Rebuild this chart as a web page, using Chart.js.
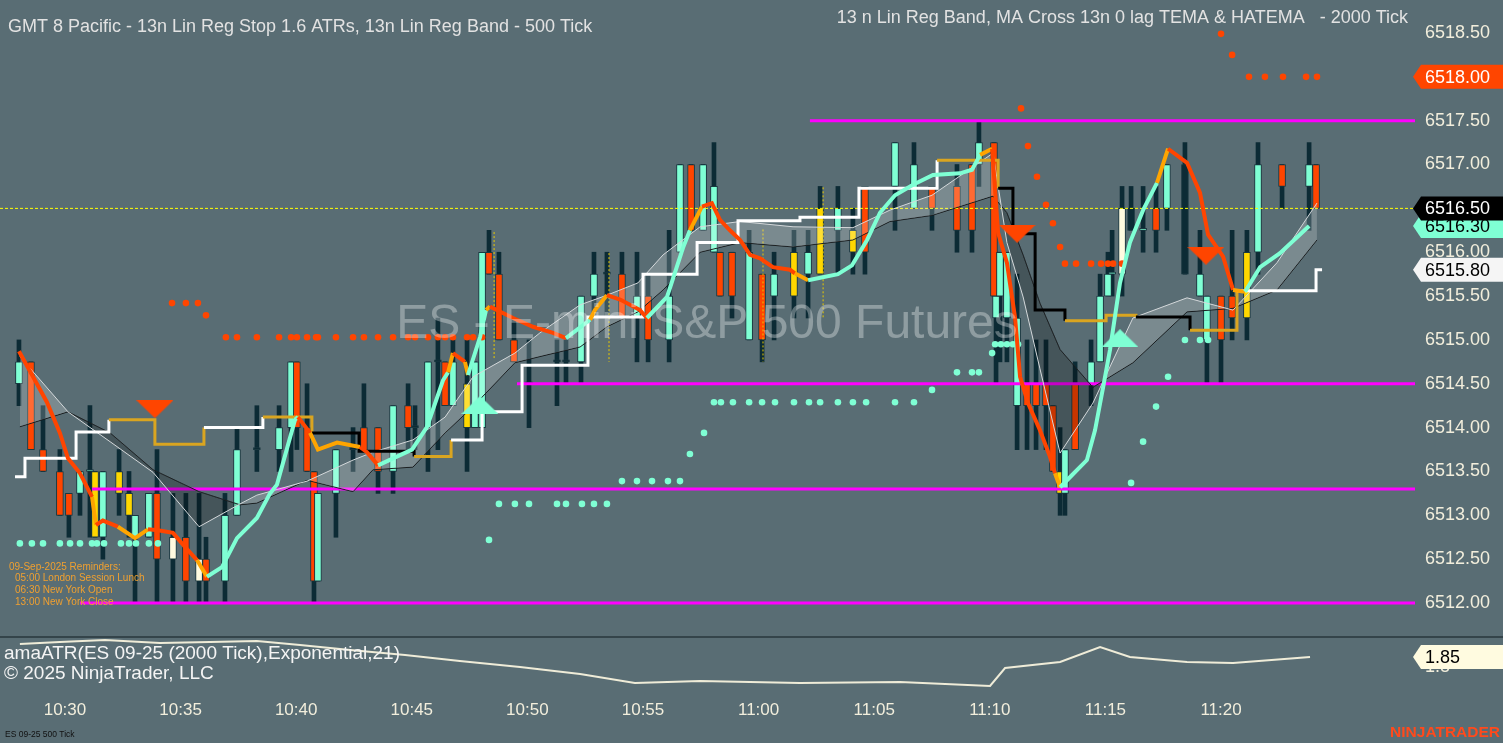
<!DOCTYPE html>
<html>
<head>
<meta charset="utf-8">
<script src="https://cdn.jsdelivr.net/npm/chart.js@4.4.0/dist/chart.umd.min.js"></script>
<style>
  html, body { margin: 0; padding: 0; background: #596d74; overflow: hidden; }
  #wrap { position: relative; width: 1503px; height: 743px; }
  #main { position: absolute; left: 0; top: 0; }
  #sep { position: absolute; left: 0; top: 636px; width: 1503px; height: 2px; background: #34444a; }
  #atr { position: absolute; left: 0; top: 638px; }
</style>
</head>
<body>
<div id="wrap">
  <canvas id="main" width="1503" height="636"></canvas>
  <div id="sep"></div>
  <canvas id="atr" width="1503" height="105"></canvas>
</div>
<script>
// time is in minutes after 10:00
const priceTicks = [6512.0, 6512.5, 6513.0, 6513.5, 6514.0, 6514.5, 6515.0, 6515.5, 6516.0, 6516.5, 6517.0, 6517.5, 6518.0, 6518.5];
const timeTicks = [30, 35, 40, 45, 50, 55, 60, 65, 70, 75, 80];
const atrTicks = [1.8];

// 500 tick bars
const barTime = [28.01, 28.53, 29.05, 29.78, 30.17, 30.65, 31.08, 31.30, 31.64, 32.34,
  32.77, 33.03, 33.63, 33.98, 34.67, 35.23, 35.80, 36.10, 36.92, 37.44,
  38.30, 39.26, 39.78, 40.03, 40.47, 40.77, 40.94, 41.72, 42.46, 42.93,
  43.54, 44.19, 44.84, 45.14, 45.70, 46.13, 46.44, 46.78, 47.39, 47.73,
  48.04, 48.34, 48.77, 49.42, 50.07, 51.28, 51.67, 52.32, 52.88, 53.44,
  54.09, 54.74, 55.22, 56.13, 56.60, 57.08, 57.60, 58.07, 58.33, 58.85,
  59.59, 60.15, 60.67, 61.53, 62.14, 62.66, 63.43, 64.08, 64.60, 65.90,
  66.72, 67.50, 68.58, 69.23, 69.53, 70.18, 70.27, 70.44, 70.74, 71.18,
  71.61, 72.00, 72.43, 72.73, 73.04, 73.25, 73.69, 74.38, 74.77, 75.11,
  75.29, 75.72, 76.11, 76.63, 77.19, 77.66, 78.44, 79.09, 79.39, 80.00,
  80.48, 81.12, 81.60, 82.64, 83.81, 84.11];
const barOpen = [6514.5, 6514.75, 6513.75, 6513.5, 6513.0, 6513.25, 6513.5, 6513.5, 6512.75, 6513.5,
  6513.25, 6512.75, 6512.75, 6513.25, 6512.75, 6512.75, 6512.5, 6512.5, 6512.25, 6513.0,
  6513.75, 6513.75, 6514.0, 6514.75, 6514.0, 6513.5, 6512.25, 6513.25, 6513.75, 6514.0,
  6514.0, 6513.5, 6514.25, 6514.0, 6514.0, 6514.75, 6514.75, 6514.25, 6514.5, 6514.0,
  6514.0, 6516.0, 6515.75, 6515.0, 6514.5, 6514.75, 6514.75, 6514.75, 6515.5, 6515.75,
  6515.75, 6515.25, 6515.5, 6515.0, 6516.0, 6517.0, 6516.25, 6516.75, 6516.0, 6515.5,
  6516.0, 6515.0, 6515.75, 6515.5, 6516.0, 6515.75, 6516.5, 6516.25, 6516.0, 6516.75,
  6517.0, 6516.5, 6516.75, 6516.25, 6517.0, 6517.25, 6515.25, 6516.0, 6516.0, 6515.25,
  6514.25, 6514.5, 6514.5, 6514.25, 6513.5, 6513.25, 6513.75, 6514.5, 6514.75, 6515.5,
  6515.75, 6515.75, 6516.5, 6516.25, 6516.25, 6516.5, 6517.0, 6515.75, 6515.5, 6515.0,
  6515.5, 6515.25, 6516.0, 6517.0, 6516.75, 6517.0];
const barHigh = [6515.0, 6514.75, 6514.25, 6513.75, 6513.25, 6513.5, 6514.25, 6513.5, 6513.5, 6513.75,
  6513.5, 6513.0, 6513.25, 6513.75, 6513.25, 6513.25, 6513.25, 6512.75, 6513.25, 6514.0,
  6514.25, 6514.25, 6514.75, 6514.75, 6514.5, 6513.5, 6513.25, 6513.75, 6514.0, 6514.5,
  6514.0, 6514.25, 6514.5, 6514.25, 6514.75, 6515.25, 6514.75, 6515.0, 6515.0, 6514.75,
  6516.0, 6516.25, 6516.0, 6515.25, 6515.0, 6515.0, 6515.0, 6515.5, 6516.0, 6516.0,
  6516.0, 6516.0, 6515.75, 6516.25, 6517.0, 6517.0, 6517.0, 6517.25, 6516.0, 6516.0,
  6516.25, 6515.75, 6516.0, 6516.25, 6516.25, 6516.75, 6516.75, 6516.5, 6516.75, 6517.25,
  6517.25, 6516.75, 6517.0, 6517.0, 6517.5, 6517.25, 6515.5, 6516.0, 6516.0, 6515.75,
  6515.0, 6515.0, 6515.0, 6514.25, 6514.0, 6513.75, 6514.75, 6515.0, 6515.75, 6516.0,
  6516.25, 6516.75, 6516.75, 6516.75, 6516.75, 6517.0, 6517.25, 6516.25, 6515.5, 6515.5,
  6516.25, 6516.25, 6517.25, 6517.0, 6517.25, 6517.0];
const barLow = [6514.25, 6513.75, 6513.5, 6513.0, 6512.75, 6513.0, 6512.75, 6512.75, 6512.5, 6513.0,
  6512.75, 6512.0, 6512.75, 6512.0, 6512.0, 6512.0, 6512.0, 6512.0, 6512.0, 6513.0,
  6513.5, 6513.5, 6513.5, 6513.75, 6513.5, 6512.0, 6512.25, 6512.75, 6513.5, 6513.75,
  6513.25, 6513.25, 6513.75, 6513.75, 6513.5, 6513.75, 6514.25, 6514.25, 6513.5, 6514.0,
  6514.0, 6515.75, 6515.0, 6514.75, 6514.0, 6514.25, 6514.5, 6514.5, 6515.25, 6515.25,
  6515.25, 6514.75, 6514.75, 6514.75, 6516.0, 6516.25, 6516.25, 6516.0, 6515.5, 6515.25,
  6515.0, 6514.75, 6515.0, 6515.25, 6515.25, 6515.75, 6515.75, 6515.75, 6515.75, 6516.25,
  6516.5, 6516.25, 6516.0, 6516.0, 6516.75, 6515.5, 6514.5, 6514.75, 6514.75, 6513.75,
  6513.75, 6513.75, 6513.75, 6513.5, 6513.0, 6513.0, 6513.75, 6514.25, 6514.75, 6515.5,
  6515.5, 6515.5, 6516.25, 6516.0, 6516.0, 6516.25, 6515.75, 6515.5, 6514.5, 6514.5,
  6515.0, 6515.0, 6515.75, 6516.5, 6516.25, 6516.5];
const barClose = [6514.75, 6513.75, 6513.5, 6513.0, 6513.25, 6513.5, 6513.5, 6512.75, 6513.5, 6513.25,
  6513.0, 6513.0, 6513.25, 6512.5, 6512.5, 6512.25, 6512.25, 6512.25, 6513.0, 6513.75,
  6513.75, 6514.0, 6514.75, 6514.0, 6513.5, 6512.25, 6513.25, 6513.75, 6513.75, 6513.75,
  6513.5, 6514.25, 6514.0, 6514.0, 6514.75, 6514.75, 6514.25, 6514.75, 6514.0, 6514.75,
  6516.0, 6515.75, 6515.0, 6514.75, 6514.5, 6514.75, 6514.75, 6515.5, 6515.75, 6515.75,
  6515.25, 6515.5, 6515.0, 6515.5, 6517.0, 6516.25, 6517.0, 6516.0, 6515.5, 6516.0,
  6515.0, 6515.75, 6515.5, 6516.0, 6515.75, 6516.5, 6516.25, 6516.0, 6516.75, 6517.25,
  6516.5, 6516.75, 6516.25, 6517.0, 6517.25, 6515.5, 6515.5, 6515.5, 6515.25, 6514.25,
  6514.5, 6514.25, 6514.25, 6513.5, 6513.25, 6513.75, 6514.5, 6514.75, 6515.5, 6515.75,
  6515.75, 6516.5, 6516.25, 6516.25, 6516.5, 6517.0, 6515.75, 6515.5, 6515.0, 6515.5,
  6515.25, 6516.0, 6517.0, 6516.75, 6517.0, 6516.5];
// u up, d down, y yellow, w cream, x doji
const barKind = 'udddduuyuyyuudwdwduuxuuddduuxddudxuxduyuuddd' +
  'xxxuuxdudu' + 'uduuddudu' + 'yuyuyduuddd' + 'uduuuuddddyuduuuuwxu' +
  'duxuuddyududu';

// lin reg stop (step line)
const stopTime = [27.84, 28.27, 30.48, 31.90, 33.89, 36.01, 38.56, 40.68, 42.72, 45.10,
  46.70, 48.04, 49.77, 52.62, 55.00, 57.34, 59.11, 61.79, 64.34, 67.72,
  70.36, 71.00, 71.96, 73.25, 75.03, 76.32, 78.66, 80.69, 84.11, 84.37];
const stopValue = [6513.44, 6513.65, 6513.95, 6514.09, 6513.81, 6514.00, 6514.12, 6513.94, 6513.73, 6513.67,
  6513.86, 6514.18, 6514.71, 6515.26, 6515.75, 6516.11, 6516.36, 6516.40, 6516.73, 6517.05,
  6516.73, 6516.21, 6515.34, 6515.22, 6515.28, 6515.26, 6515.11, 6515.56, 6515.80, 6515.80];
const stopState = 'wwwggwgkkgwwwwwwwwwgkkkggkgwww';

// stop dots
const dotHighTime = [34.63, 35.23, 35.75, 36.10, 36.96, 37.44, 38.30, 39.26, 39.78, 40.03,
  40.47, 40.86, 40.94, 41.72, 42.46, 42.93, 43.54, 44.19, 44.84, 45.14,
  45.70, 46.13, 46.44, 46.78, 47.39, 47.65, 48.04,
  71.35, 71.65, 72.04, 72.43, 72.73, 73.04, 73.25, 73.73, 74.38, 74.81, 75.11, 75.33, 75.72,
  80.00, 80.48, 81.21, 81.90, 82.68, 83.68, 84.15];
const dotHighValue = [6515.42, 6515.42, 6515.42, 6515.28, 6515.03, 6515.03, 6515.03, 6515.03, 6515.03, 6515.03,
  6515.03, 6515.03, 6515.03, 6515.03, 6515.03, 6515.03, 6515.03, 6515.03, 6515.03, 6515.03,
  6515.03, 6515.03, 6515.03, 6515.03, 6515.03, 6515.03, 6515.03,
  6517.64, 6517.21, 6516.86, 6516.54, 6516.33, 6516.06, 6515.87, 6515.87, 6515.87, 6515.87, 6515.87, 6515.87, 6515.87,
  6518.49, 6518.25, 6518.00, 6518.00, 6518.00, 6518.00, 6518.00];
const dotLowTime = [28.05, 28.57, 29.05, 29.78, 30.22, 30.65, 31.17, 31.38, 31.69, 32.42, 32.77, 33.07, 33.63, 34.02,
  48.34, 48.77, 49.46, 50.07, 51.28, 51.67, 52.36, 52.88, 53.44,
  54.09, 54.74, 55.39, 56.08, 56.60, 57.03, 57.64,
  58.07, 58.37, 58.89, 59.59, 60.15, 60.71, 61.53, 62.18, 62.66, 63.43, 64.08, 64.65, 65.90, 66.72,
  67.50, 68.58, 69.23, 69.53, 70.10, 70.23, 70.48, 70.74, 71.00, 71.22,
  76.11, 76.63, 77.19, 77.71, 78.44, 79.09, 79.44];
const dotLowValue = [6512.68, 6512.68, 6512.68, 6512.68, 6512.68, 6512.68, 6512.68, 6512.68, 6512.68, 6512.68, 6512.68, 6512.68, 6512.68, 6512.68,
  6512.72, 6513.13, 6513.13, 6513.13, 6513.13, 6513.13, 6513.13, 6513.13, 6513.13,
  6513.39, 6513.39, 6513.39, 6513.39, 6513.39, 6513.70, 6513.94,
  6514.29, 6514.29, 6514.29, 6514.29, 6514.29, 6514.29, 6514.29, 6514.29, 6514.29, 6514.29, 6514.29, 6514.29, 6514.29, 6514.29,
  6514.43, 6514.63, 6514.63, 6514.63, 6514.85, 6514.95, 6514.95, 6514.95, 6514.95, 6514.95,
  6513.37, 6513.84, 6514.24, 6514.58, 6515.00, 6515.00, 6515.00];

// lin reg band (2000 tick)
const bandTime = [28.05, 30.13, 31.95, 33.81, 35.80, 37.57, 38.30, 40.47, 42.46, 43.32,
  45.05, 46.44, 47.65, 49.46, 50.54, 52.28, 53.44, 54.78, 55.87, 57.47,
  59.20, 61.49, 64.08, 65.68, 67.50, 70.14, 70.74, 71.44, 72.17, 73.04,
  74.46, 76.19, 78.53, 80.52, 82.42, 84.15];
const bandUpper = [6514.81, 6514.18, 6513.84, 6513.49, 6512.87, 6513.13, 6513.23, 6513.39, 6513.63, 6513.72,
  6513.86, 6514.12, 6514.58, 6514.85, 6515.08, 6515.40, 6515.51, 6515.65, 6515.97, 6516.29,
  6516.35, 6516.29, 6516.28, 6516.48, 6516.65, 6517.13, 6516.11, 6515.49, 6514.67, 6513.71,
  6514.28, 6515.25, 6515.48, 6515.34, 6515.88, 6516.56];
const bandLower = [6514.01, 6514.18, 6513.94, 6513.52, 6513.27, 6513.12, 6513.14, 6513.40, 6513.27, 6513.52,
  6513.55, 6513.94, 6514.24, 6514.74, 6514.81, 6514.92, 6515.15, 6515.32, 6515.57, 6516.00,
  6516.11, 6516.06, 6516.14, 6516.35, 6516.42, 6516.64, 6516.45, 6515.97, 6515.42, 6514.89,
  6514.46, 6514.74, 6515.32, 6515.36, 6515.57, 6516.14];

// TEMA (2000 tick), hue r falling, o turning, c rising
const temaTime = [28.01, 28.62, 29.22, 29.78, 30.13, 30.65, 31.17, 31.34, 31.64, 32.29,
  33.03, 33.59, 34.02, 34.67, 35.19, 35.71, 36.14, 36.79, 37.44, 38.30,
  38.87, 39.17, 39.95, 40.08, 40.60, 40.94, 41.77, 42.76, 43.06, 43.54,
  44.19, 45.01, 45.66, 46.35, 46.57, 46.78, 47.30, 47.43, 47.95, 48.21,
  48.38, 49.38, 50.24, 51.11, 51.67, 52.71, 52.92, 53.44, 54.01, 54.87,
  55.17, 56.04, 56.73, 57.03, 57.55, 57.98, 58.33, 58.76, 59.20, 59.63,
  60.06, 60.62, 61.36, 61.57, 62.14, 63.43, 64.04, 64.69, 65.25, 65.90,
  66.68, 67.54, 68.71, 69.23, 69.58, 70.10, 70.36, 70.74, 71.09, 71.31,
  71.65, 72.17, 72.60, 72.82, 73.04, 73.56, 74.20, 74.55, 74.90, 75.20,
  75.63, 76.06, 76.63, 77.23, 77.71, 78.53, 79.09, 79.44, 80.09, 80.52,
  81.04, 81.69, 82.55, 83.81];
const temaValue = [6514.87, 6514.58, 6514.29, 6513.94, 6513.65, 6513.48, 6513.21, 6512.89, 6512.94, 6512.87,
  6512.74, 6512.84, 6512.83, 6512.80, 6512.64, 6512.49, 6512.30, 6512.41, 6512.74, 6512.97,
  6513.25, 6513.35, 6514.09, 6514.12, 6513.94, 6513.75, 6513.83, 6513.78, 6513.72, 6513.57,
  6513.65, 6513.75, 6514.01, 6514.54, 6514.63, 6514.85, 6514.75, 6514.60, 6515.03, 6515.34,
  6515.38, 6515.25, 6515.15, 6515.08, 6515.02, 6515.23, 6515.34, 6515.51, 6515.46, 6515.34,
  6515.25, 6515.49, 6516.05, 6516.25, 6516.52, 6516.56, 6516.37, 6516.25, 6516.14, 6515.97,
  6515.93, 6515.83, 6515.80, 6515.76, 6515.68, 6515.75, 6515.85, 6516.14, 6516.45, 6516.65,
  6516.77, 6516.88, 6516.90, 6516.94, 6517.11, 6517.18, 6516.22, 6515.88, 6515.26, 6514.58,
  6514.28, 6513.97, 6513.67, 6513.48, 6513.32, 6513.46, 6513.63, 6513.97, 6514.46, 6514.89,
  6515.65, 6516.11, 6516.48, 6516.79, 6517.18, 6517.02, 6516.68, 6516.20, 6515.95, 6515.57,
  6515.55, 6515.83, 6515.99, 6516.30];
const temaHue = 'rrrrrrorroorrrrocccccccrooorrcccccorocco' +
  'rrrrcoorrrccco' + 'rrrrrrrrro' + 'cccccccccco' + 'rrrrrrrro' + 'ccccccccco' + 'rrrrro' + 'cccc';

// signal triangles
const sigTime = [33.89, 47.95, 71.18, 75.63, 79.35];
const sigValue = [6514.21, 6514.26, 6516.21, 6515.02, 6515.96];
const sigDir = ['down', 'up', 'down', 'up', 'down'];

// horizontal levels
const levelValue = [6517.5, 6514.5, 6513.3, 6512.0];
const levelFrom = [62.22, 49.55, 31.17, 30.65];

// small dotted vertical marks
const markTime = [48.56, 53.53, 60.19, 62.79];
const markTop = [6516.23, 6515.99, 6516.26, 6516.74];
const markBottom = [6514.77, 6514.75, 6514.75, 6515.25];

// amaATR
const atrTime = [28.05, 29.78, 31.73, 34.11, 36.27, 38.30, 40.17, 42.33, 44.71, 47.08,
  49.68, 52.28, 54.65, 57.47, 61.79, 66.12, 70.01, 70.66, 73.04, 74.77,
  76.06, 78.53, 80.52, 83.85];
const atrValue = [1.915, 1.925, 1.935, 1.92, 1.925, 1.93, 1.91, 1.885, 1.86, 1.83,
  1.80, 1.765, 1.72, 1.73, 1.72, 1.725, 1.705, 1.795, 1.825, 1.90,
  1.85, 1.825, 1.82, 1.85];

const titleLeft = 'GMT 8 Pacific - 13n Lin Reg Stop 1.6 ATRs, 13n Lin Reg Band - 500 Tick';
const titleRight = '13 n Lin Reg Band, MA Cross 13n 0 lag TEMA & HATEMA   - 2000 Tick';
const watermark = 'ES - E-mini S&P 500 Futures';
const reminders = ['09-Sep-2025 Reminders:', '05:00 London Session Lunch', '06:30 New York Open', '13:00 New York Close'];

const FONT = "'Liberation Sans', Arial, sans-serif";
const TXT = '#f2eedc';
const UP = '#7fffd4', DN = '#ff4500', YEL = '#ffd700', CRM = '#fffbe0', WICK = '#0c2b35', ORG = '#ffa500';
const kindColor = { u: UP, d: DN, y: YEL, w: CRM, x: WICK };
const hueColor = { r: DN, o: ORG, c: UP };
const stateColor = { w: '#ffffff', g: '#daa520', k: '#000000' };
const X_MIN = 27.19, X_MAX = 88.39;

function hhmm(m) {
  const h = 10 + Math.floor(m / 60);
  return h + ':' + String(Math.round(m % 60)).padStart(2, '0');
}

function makeTriangle(color, down) {
  const c = document.createElement('canvas');
  c.width = 37; c.height = 18;
  const g = c.getContext('2d');
  g.fillStyle = color;
  g.beginPath();
  if (down) { g.moveTo(0, 0); g.lineTo(37, 0); g.lineTo(18.5, 18); }
  else { g.moveTo(18.5, 0); g.lineTo(37, 18); g.lineTo(0, 18); }
  g.closePath();
  g.fill();
  return c;
}
const triDown = makeTriangle(DN, true);
const triUp = makeTriangle(UP, false);

function drawTag(ctx, y, text, bg, fg) {
  ctx.beginPath();
  ctx.moveTo(1413, y);
  ctx.lineTo(1421, y - 12);
  ctx.lineTo(1503, y - 12);
  ctx.lineTo(1503, y + 12);
  ctx.lineTo(1421, y + 12);
  ctx.closePath();
  ctx.fillStyle = bg;
  ctx.fill();
  ctx.fillStyle = fg;
  ctx.font = '18px ' + FONT;
  ctx.textAlign = 'left';
  ctx.textBaseline = 'middle';
  ctx.fillText(text, 1425, y + 1);
}

const last = arr => arr[arr.length - 1];

const mainOverlay = {
  id: 'mainOverlay',
  afterDraw(chart) {
    const ctx = chart.ctx;
    const ys = chart.scales.y;
    ctx.save();
    ctx.font = '48px ' + FONT;
    ctx.fillStyle = 'rgba(255,255,255,0.33)';
    ctx.textAlign = 'center';
    ctx.textBaseline = 'alphabetic';
    ctx.fillText(watermark, 707, 338);

    ctx.font = '18px ' + FONT;
    ctx.fillStyle = '#e2e2e2';
    ctx.textBaseline = 'middle';
    ctx.textAlign = 'left';
    ctx.fillText(titleLeft, 8, 27);
    ctx.textAlign = 'right';
    ctx.fillText(titleRight, 1408, 18);

    ctx.font = '10px ' + FONT;
    ctx.fillStyle = '#f0a030';
    ctx.textAlign = 'left';
    reminders.forEach((s, i) => ctx.fillText(s, i ? 15 : 9, 567 + i * 11.7));

    drawTag(ctx, ys.getPixelForValue(last(dotHighValue)), last(dotHighValue).toFixed(2), DN, '#ffffff');
    drawTag(ctx, ys.getPixelForValue(last(temaValue)), last(temaValue).toFixed(2), UP, '#000000');
    drawTag(ctx, ys.getPixelForValue(last(stopValue)), last(stopValue).toFixed(2), '#f5f5f5', '#000000');
    drawTag(ctx, ys.getPixelForValue(last(barClose)), last(barClose).toFixed(2), '#000000', '#ffffff');
    ctx.restore();
  }
};

const datasets = [];
datasets.push({
  type: 'scatter', order: 0,
  data: sigTime.map((t, i) => ({ x: t, y: sigValue[i] })),
  pointStyle: sigDir.map(d => d === 'down' ? triDown : triUp),
  pointRadius: 10
});
datasets.push({
  type: 'line', order: 1,
  data: temaTime.map((t, i) => ({ x: t, y: temaValue[i] })),
  borderWidth: 4, pointRadius: 0, borderColor: DN,
  segment: { borderColor: c => hueColor[temaHue[c.p0DataIndex]] }
});
datasets.push({
  type: 'line', order: 2, stepped: 'before',
  data: stopTime.map((t, i) => ({ x: t, y: stopValue[i] })),
  borderWidth: 3, pointRadius: 0, borderColor: '#ffffff',
  segment: { borderColor: c => stateColor[stopState[c.p0DataIndex]] }
});
datasets.push({
  type: 'scatter', order: 3,
  data: dotHighTime.map((t, i) => ({ x: t, y: dotHighValue[i] })),
  pointRadius: 3.3, pointBorderWidth: 0, backgroundColor: DN
});
datasets.push({
  type: 'scatter', order: 3,
  data: dotLowTime.map((t, i) => ({ x: t, y: dotLowValue[i] })),
  pointRadius: 3.3, pointBorderWidth: 0, backgroundColor: UP
});
datasets.push({
  type: 'line', order: 4,
  data: bandTime.map((t, i) => ({ x: t, y: bandUpper[i] })),
  borderWidth: 1, pointRadius: 0, borderColor: '#d4d8da',
  fill: { target: '+1', above: 'rgba(255,255,255,0.2)', below: 'rgba(0,0,0,0.22)' }
});
datasets.push({
  type: 'line', order: 4,
  data: bandTime.map((t, i) => ({ x: t, y: bandLower[i] })),
  borderWidth: 1, pointRadius: 0, borderColor: '#15191b'
});
levelValue.forEach((v, i) => datasets.push({
  type: 'line', order: 5,
  data: [{ x: levelFrom[i], y: v }, { x: X_MAX, y: v }],
  borderWidth: 3, pointRadius: 0, borderColor: '#ff00ff'
}));
datasets.push({
  type: 'line', order: 5,
  data: [{ x: X_MIN, y: last(barClose) }, { x: X_MAX, y: last(barClose) }],
  borderWidth: 1, pointRadius: 0, borderColor: '#ffff00', borderDash: [3, 2]
});
markTime.forEach((t, i) => datasets.push({
  type: 'line', order: 5,
  data: [{ x: t, y: markTop[i] }, { x: t, y: markBottom[i] }],
  borderWidth: 1, pointRadius: 0, borderColor: '#e8c800', borderDash: [2, 2]
}));
datasets.push({
  type: 'bar', order: 6, grouped: false, barThickness: 7, minBarLength: 2,
  data: barTime.map((t, i) => ({ x: t, y: [barOpen[i], barClose[i]] })),
  backgroundColor: barKind.split('').map(k => kindColor[k]),
  borderColor: '#1a3840', borderWidth: 1, borderSkipped: false
});
datasets.push({
  type: 'bar', order: 7, grouped: false, barThickness: 4,
  data: barTime.map((t, i) => ({ x: t, y: [barLow[i], barHigh[i]] })),
  backgroundColor: WICK, borderWidth: 0
});

new Chart(document.getElementById('main'), {
  type: 'line',
  data: { datasets },
  options: {
    responsive: false, animation: false, events: [],
    layout: { padding: 0, autoPadding: false },
    plugins: { legend: { display: false }, tooltip: { enabled: false } },
    scales: {
      x: { type: 'linear', min: X_MIN, max: X_MAX, display: false, offset: false },
      y: {
        type: 'linear', position: 'right', min: 6511.624, max: 6518.876,
        grid: { display: false, drawTicks: false }, border: { display: false },
        ticks: { color: TXT, font: { family: FONT, size: 18 }, padding: 10, autoSkip: false, callback: v => v.toFixed(2) },
        afterBuildTicks: s => { s.ticks = priceTicks.map(v => ({ value: v })); },
        afterFit: s => { s.width = 88; s.paddingTop = 0; s.paddingBottom = 0; }
      }
    }
  },
  plugins: [mainOverlay]
});

const atrOverlay = {
  id: 'atrOverlay',
  afterDraw(chart) {
    const ctx = chart.ctx;
    ctx.save();
    ctx.fillStyle = '#f4f4f4';
    ctx.font = '19px ' + FONT;
    ctx.textAlign = 'left';
    ctx.textBaseline = 'middle';
    ctx.fillText('amaATR(ES 09-25 (2000 Tick),Exponential,21)', 4, 16);
    ctx.fillText('\u00a9 2025 NinjaTrader, LLC', 4, 36);
    ctx.font = '8.5px ' + FONT;
    ctx.fillStyle = '#111111';
    ctx.fillText('ES 09-25 500 Tick', 5, 97);
    ctx.font = 'bold 15.5px ' + FONT;
    ctx.fillStyle = '#ff4a1c';
    ctx.textAlign = 'right';
    ctx.fillText('NINJATRADER', 1500, 95);
    const v = last(atrValue);
    drawTag(ctx, chart.scales.y.getPixelForValue(v), v.toFixed(2), '#fffbe0', '#000000');
    ctx.restore();
  }
};

new Chart(document.getElementById('atr'), {
  type: 'line',
  data: {
    datasets: [{
      data: atrTime.map((t, i) => ({ x: t, y: atrValue[i] })),
      borderColor: '#efecd8', borderWidth: 2, pointRadius: 0
    }]
  },
  options: {
    responsive: false, animation: false, events: [],
    layout: { padding: 0, autoPadding: false },
    plugins: { legend: { display: false }, tooltip: { enabled: false } },
    scales: {
      x: {
        type: 'linear', min: X_MIN, max: X_MAX, offset: false,
        grid: { display: false, drawTicks: false }, border: { display: false },
        ticks: { color: TXT, font: { family: FONT, size: 17 }, padding: 8, autoSkip: false, maxRotation: 0, callback: v => hhmm(v) },
        afterBuildTicks: s => { s.ticks = timeTicks.map(v => ({ value: v })); },
        afterFit: s => { s.height = 51; s.paddingLeft = 0; s.paddingRight = 0; }
      },
      y: {
        type: 'linear', position: 'right', min: 1.675, max: 1.945,
        grid: { display: false, drawTicks: false }, border: { display: false },
        ticks: { color: TXT, font: { family: FONT, size: 18 }, padding: 10, callback: v => v.toFixed(1) },
        afterBuildTicks: s => { s.ticks = atrTicks.map(v => ({ value: v })); },
        afterFit: s => { s.width = 88; s.paddingTop = 0; s.paddingBottom = 0; }
      }
    }
  },
  plugins: [atrOverlay]
});
</script>
</body>
</html>
